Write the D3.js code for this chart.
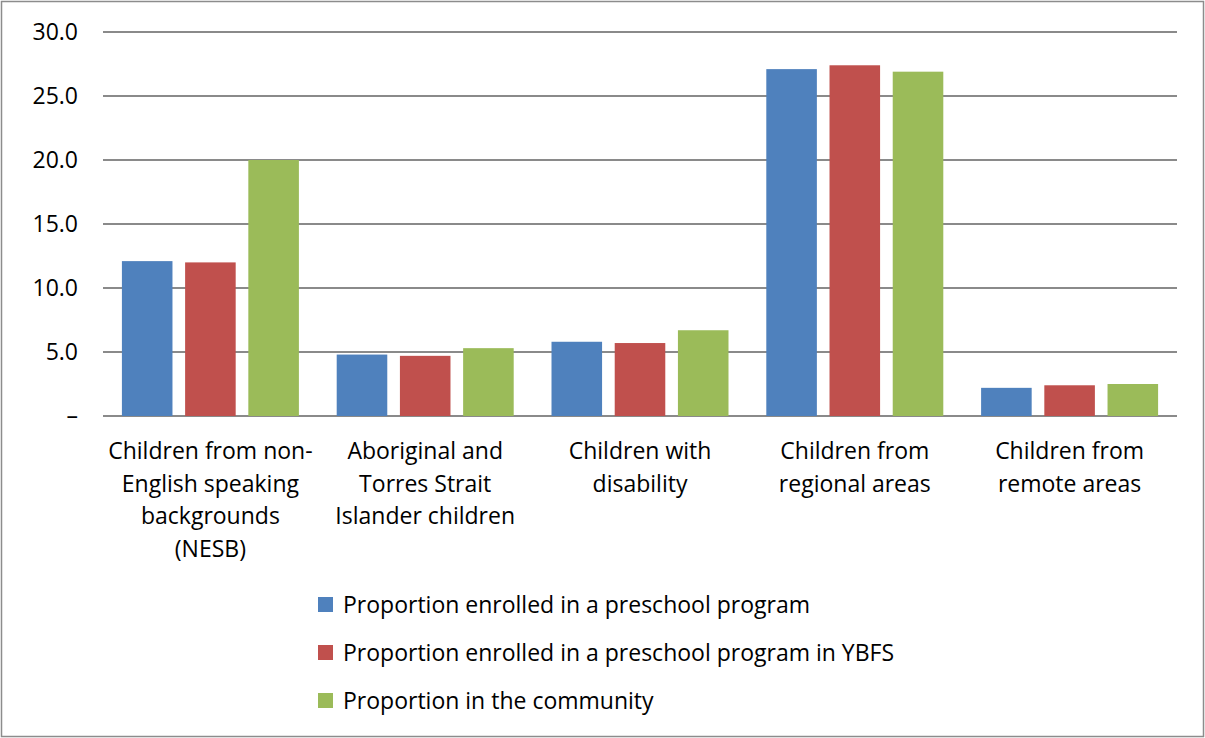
<!DOCTYPE html>
<html>
<head>
<meta charset="utf-8">
<script src="https://cdn.jsdelivr.net/npm/d3@7"></script>
<style>
  body { margin: 0; background: #fff; }
  svg text { font-family: "Open Sans", sans-serif; fill: #000; }
</style>
</head>
<body>
<div id="chart"></div>
<script>
const categories = [
  ['Children from non-', 'English speaking', 'backgrounds', '(NESB)'],
  ['Aboriginal and', 'Torres Strait', 'Islander children'],
  ['Children with', 'disability'],
  ['Children from', 'regional areas'],
  ['Children from', 'remote areas']
];
const seriesNames = [
  'Proportion enrolled in a preschool program',
  'Proportion enrolled in a preschool program in YBFS',
  'Proportion in the community'
];
const enrolled = [12.1, 4.8, 5.8, 27.1, 2.2];
const enrolledYBFS = [12.0, 4.7, 5.7, 27.4, 2.4];
const community = [20.0, 5.3, 6.7, 26.9, 2.5];
const yTicks = [0, 5, 10, 15, 20, 25, 30];
const colors = ['#4F81BD', '#C0504D', '#9BBB59'];

const W = 1205, H = 738;
const margin = { top: 32, right: 28, bottom: 322, left: 103 };
const width = W - margin.left - margin.right;
const height = H - margin.top - margin.bottom;
const fontSize = '23px';

const svg = d3.select('#chart').append('svg')
  .attr('width', W)
  .attr('height', H);

// outer frame
svg.append('rect')
  .attr('x', 1.5).attr('y', 1.5)
  .attr('width', W - 3).attr('height', H - 3)
  .attr('fill', 'none')
  .attr('stroke', '#8c8c8c')
  .attr('stroke-width', 1.5);

const g = svg.append('g')
  .attr('transform', `translate(${margin.left},${margin.top})`);

const catIdx = d3.range(categories.length);
const x0 = d3.scaleBand().domain(catIdx).range([0, width]).paddingInner(0.176).paddingOuter(0.088);
const x1 = d3.scaleBand().domain([0, 1, 2]).range([0, x0.bandwidth()]).paddingInner(0.2);
const y = d3.scaleLinear().domain([0, 30]).range([height, 0]);

// gridlines
g.selectAll('.grid')
  .data(yTicks)
  .enter().append('line')
  .attr('x1', 0).attr('x2', width)
  .attr('y1', d => y(d)).attr('y2', d => y(d))
  .attr('stroke', '#8a8a8a')
  .attr('stroke-width', 2);

// y axis labels
const yAxis = d3.axisLeft(y).tickValues(yTicks)
  .tickFormat(d => d === 0 ? '–' : d3.format('.1f')(d))
  .tickSize(0).tickPadding(25);
const ya = g.append('g').call(yAxis);
ya.select('.domain').remove();
ya.selectAll('text')
  .style('font-size', fontSize)
  .style('font-family', '"Open Sans", sans-serif')
  .attr('fill', '#000');

const series = [enrolled, enrolledYBFS, community];

// bars
const groups = g.selectAll('.cat')
  .data(catIdx)
  .enter().append('g')
  .attr('transform', i => `translate(${x0(i)},0)`);

groups.selectAll('rect')
  .data(i => series.map((s, k) => ({ k, v: s[i] })))
  .enter().append('rect')
  .attr('x', d => x1(d.k))
  .attr('width', x1.bandwidth())
  .attr('y', d => y(d.v))
  .attr('height', d => y(0) - y(d.v))
  .attr('fill', d => colors[d.k]);

// category labels
const labels = g.selectAll('.catlabel')
  .data(catIdx)
  .enter().append('text')
  .attr('text-anchor', 'middle')
  .attr('transform', i => `translate(${x0(i) + x0.bandwidth() / 2},${height + 43})`)
  .style('font-size', fontSize);
labels.selectAll('tspan')
  .data(i => categories[i])
  .enter().append('tspan')
  .attr('x', 0)
  .attr('dy', (d, j) => j === 0 ? 0 : 32.5)
  .text(d => d);

// legend
const legend = svg.append('g').attr('transform', 'translate(318,605)');
const items = legend.selectAll('g')
  .data(seriesNames)
  .enter().append('g')
  .attr('transform', (d, i) => `translate(0,${i * 48})`);
items.append('rect')
  .attr('x', 0).attr('y', -8)
  .attr('width', 15).attr('height', 15)
  .attr('fill', (d, i) => colors[i]);
items.append('text')
  .attr('x', 25).attr('y', 8)
  .style('font-size', fontSize)
  .text(d => d);
</script>
</body>
</html>
